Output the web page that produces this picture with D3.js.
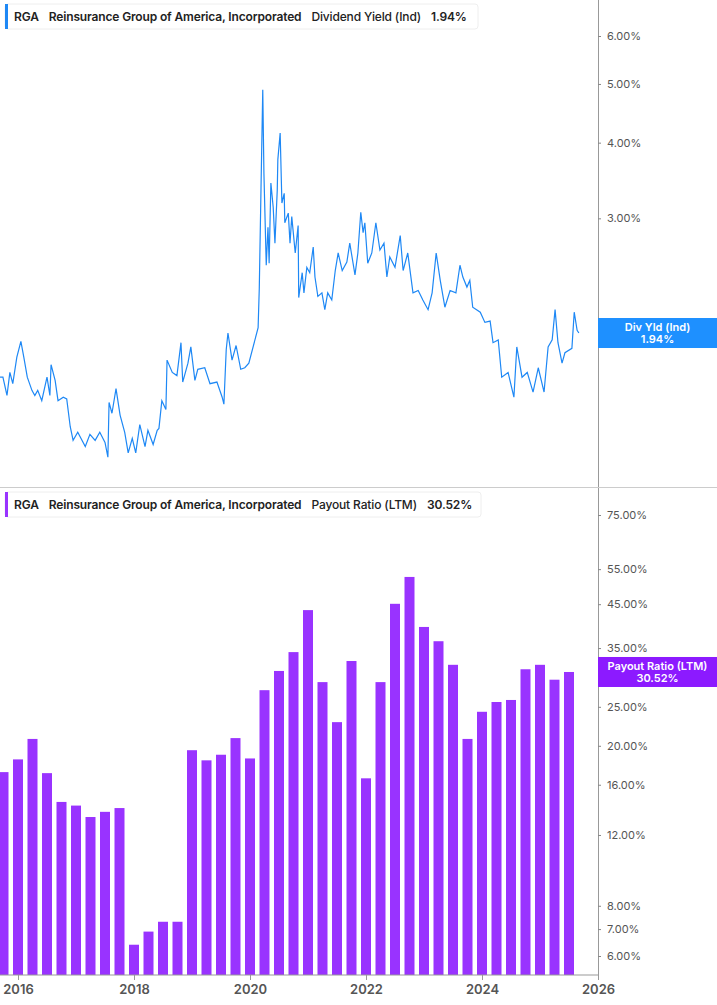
<!DOCTYPE html>
<html><head><meta charset="utf-8">
<script src="https://cdn.jsdelivr.net/npm/d3@7"></script>
<style>body{margin:0;background:#fff;font-family:Inter,"Noto Sans",sans-serif}</style>
</head><body><svg id="c" width="717" height="1005"></svg>
<script>
const yieldDates=[2015.69,2015.74,2015.81,2015.86,2015.91,2015.98,2016.05,2016.10,2016.16,2016.24,2016.29,2016.34,2016.41,2016.50,2016.55,2016.57,2016.64,2016.69,2016.78,2016.84,2016.90,2016.95,2017.03,2017.16,2017.24,2017.33,2017.41,2017.50,2017.55,2017.57,2017.62,2017.69,2017.76,2017.84,2017.90,2017.97,2018.03,2018.10,2018.19,2018.24,2018.33,2018.40,2018.43,2018.48,2018.55,2018.57,2018.66,2018.74,2018.81,2018.84,2018.93,2018.98,2019.05,2019.10,2019.22,2019.31,2019.43,2019.52,2019.55,2019.59,2019.62,2019.69,2019.76,2019.84,2019.91,2019.98,
2020.14,2020.16,2020.19,2020.22,2020.24,2020.28,2020.31,2020.33,2020.36,2020.40,2020.43,2020.47,2020.48,2020.52,2020.55,2020.59,2020.60,2020.66,2020.69,2020.72,2020.78,2020.83,2020.84,2020.90,2020.93,2020.98,2021.03,2021.09,2021.12,2021.17,2021.24,2021.29,2021.34,2021.41,2021.47,2021.52,2021.59,2021.67,2021.72,2021.81,2021.86,2021.91,2021.95,2021.98,2022.03,2022.10,2022.17,2022.24,2022.31,2022.36,2022.41,2022.50,2022.59,2022.64,2022.72,2022.81,2022.90,2022.98,2023.07,2023.14,2023.21,2023.28,2023.36,2023.45,2023.55,2023.62,2023.67,2023.74,2023.79,2023.84,
2023.97,2024.05,2024.14,2024.19,2024.28,2024.34,2024.45,2024.55,2024.60,2024.69,2024.78,2024.88,2024.97,2025.07,2025.14,2025.21,2025.26,2025.31,2025.38,2025.43,2025.55,2025.59,2025.64,2025.67];
const yieldValues=[1.64,1.64,1.53,1.67,1.60,1.77,1.88,1.77,1.64,1.56,1.53,1.56,1.50,1.64,1.53,1.72,1.62,1.50,1.52,1.51,1.36,1.29,1.33,1.26,1.32,1.29,1.33,1.28,1.21,1.49,1.43,1.57,1.42,1.33,1.23,1.30,1.23,1.37,1.26,1.34,1.27,1.34,1.35,1.50,1.45,1.75,1.67,1.65,1.87,1.61,1.73,1.84,1.62,1.69,1.70,1.60,1.61,1.52,1.48,1.82,1.94,1.75,1.85,1.69,1.70,1.73,
1.98,2.30,3.37,4.89,3.56,2.51,2.90,2.53,3.43,3.13,2.73,3.34,3.75,4.15,3.18,3.30,2.95,3.06,2.73,3.02,2.63,2.92,2.22,2.44,2.26,2.49,2.44,2.69,2.40,2.23,2.26,2.12,2.26,2.20,2.46,2.63,2.46,2.54,2.73,2.42,2.63,3.07,2.84,2.95,2.53,2.63,2.95,2.66,2.73,2.40,2.59,2.49,2.81,2.46,2.63,2.26,2.28,2.20,2.12,2.26,2.63,2.37,2.14,2.28,2.26,2.51,2.40,2.31,2.37,2.14,
2.10,2.02,2.03,1.87,1.89,1.64,1.67,1.52,1.84,1.64,1.67,1.55,1.70,1.55,1.84,1.89,2.12,1.87,1.73,1.80,1.83,2.10,1.96,1.94];
const payoutDates=d3.range(40).map(i=>2015.75+0.25*i);
const payoutValues=[17.2,18.5,20.8,17.1,14.5,14.2,13.3,13.7,14.0,6.4,6.9,7.3,7.3,19.5,18.4,19.0,20.9,18.6,27.5,30.7,34.2,43.5,28.8,22.9,32.5,16.6,28.8,45.1,52.6,39.5,36.4,31.8,20.8,24.3,25.7,26.0,31.0,31.8,29.2,30.52];
const yieldTicks=[3,4,5,6];
const payoutTicks=[6,7,8,12,16,20,25,35,45,55,75];
const yearTicks=[2016,2018,2020,2022,2024,2026];

const svg=d3.select("#c");
const W=598;
const x=d3.scaleLinear().domain([2016,2026]).range([18,598]);
const yT=d3.scaleLog().domain([6,2]).range([36,325]);
const yB=d3.scaleLog().domain([75,6]).range([515,956]);
const base=975;
const fmt=v=>v.toFixed(2)+"%";

svg.append("line").attr("x1",W+0.5).attr("x2",W+0.5).attr("y1",0).attr("y2",base).attr("stroke","#999");
svg.append("line").attr("x1",0).attr("x2",717).attr("y1",487.5).attr("y2",487.5).attr("stroke","#ccc");

svg.append("path").datum(yieldDates.map((d,i)=>[d,yieldValues[i]]))
 .attr("d",d3.line().x(d=>x(d[0])).y(d=>yT(d[1])))
 .attr("fill","none").attr("stroke","#1e88f5").attr("stroke-width",1.2);

svg.selectAll("rect.bar").data(payoutValues).enter().append("rect")
 .attr("x",(d,i)=>x(payoutDates[i])-5).attr("width",10)
 .attr("y",d=>yB(d)).attr("height",d=>base-yB(d)).attr("fill","#9933ff");

function rAxis(scale,ticks){
 const g=svg.append("g").attr("transform",`translate(${W},0)`)
  .call(d3.axisRight(scale).tickValues(ticks).tickFormat(fmt).tickSize(3).tickPadding(6));
 g.select(".domain").remove();
 g.selectAll("line").attr("stroke","#888");
 g.selectAll("text").attr("fill","#555").style("font-size","11px").style("font-family","Inter,sans-serif");
}
rAxis(yT,yieldTicks);
rAxis(yB,payoutTicks);

const gx=svg.append("g").attr("transform",`translate(0,${base})`)
 .call(d3.axisBottom(x).tickValues(yearTicks).tickFormat(d3.format("d")).tickSize(5).tickPadding(5));
gx.select(".domain").attr("d",`M0,0H${W}`).attr("stroke","#999");
gx.selectAll("line").attr("stroke","#999");
gx.selectAll("text").attr("fill","#555").style("font-size","13px").style("font-weight","600").style("font-family","Inter,sans-serif");

function legend(y,color,label,val,w){
 const g=svg.append("g").attr("transform",`translate(5,${y})`);
 g.append("rect").attr("width",w).attr("height",25).attr("rx",3).attr("fill","#fff").attr("stroke","#eee");
 g.append("rect").attr("width",3).attr("height",25).attr("fill",color);
 const t=g.append("text").attr("x",9).attr("y",17).style("font-size","12px").style("letter-spacing","-0.15px").style("font-family","Inter,sans-serif").style("font-weight","600").attr("fill","#222");
 t.append("tspan").text("RGA");
 t.append("tspan").attr("dx",10).text("Reinsurance Group of America, Incorporated");
 t.append("tspan").attr("dx",10).style("font-weight","500").text(label);
 t.append("tspan").attr("dx",10).text(val);
}
legend(4,"#1e88f5","Dividend Yield (Ind)","1.94%",473);
legend(492,"#9933ff","Payout Ratio (LTM)","30.52%",476);

function tag(yc,color,l1,l2){
 const g=svg.append("g");
 g.append("rect").attr("x",W).attr("y",yc-15).attr("width",717-W).attr("height",30).attr("fill",color);
 g.append("text").attr("x",(W+717)/2).attr("y",yc-2).attr("text-anchor","middle").attr("fill","#fff").style("font-size","11px").style("font-weight","600").style("font-family","Inter,sans-serif").text(l1);
 g.append("text").attr("x",(W+717)/2).attr("y",yc+10).attr("text-anchor","middle").attr("fill","#fff").style("font-size","11px").style("font-weight","600").style("font-family","Inter,sans-serif").text(l2);
}
tag(yT(1.94),"#1e90ff","Div Yld (Ind)","1.94%");
tag(yB(30.52),"#8c1aff","Payout Ratio (LTM)","30.52%");
</script></body></html>
